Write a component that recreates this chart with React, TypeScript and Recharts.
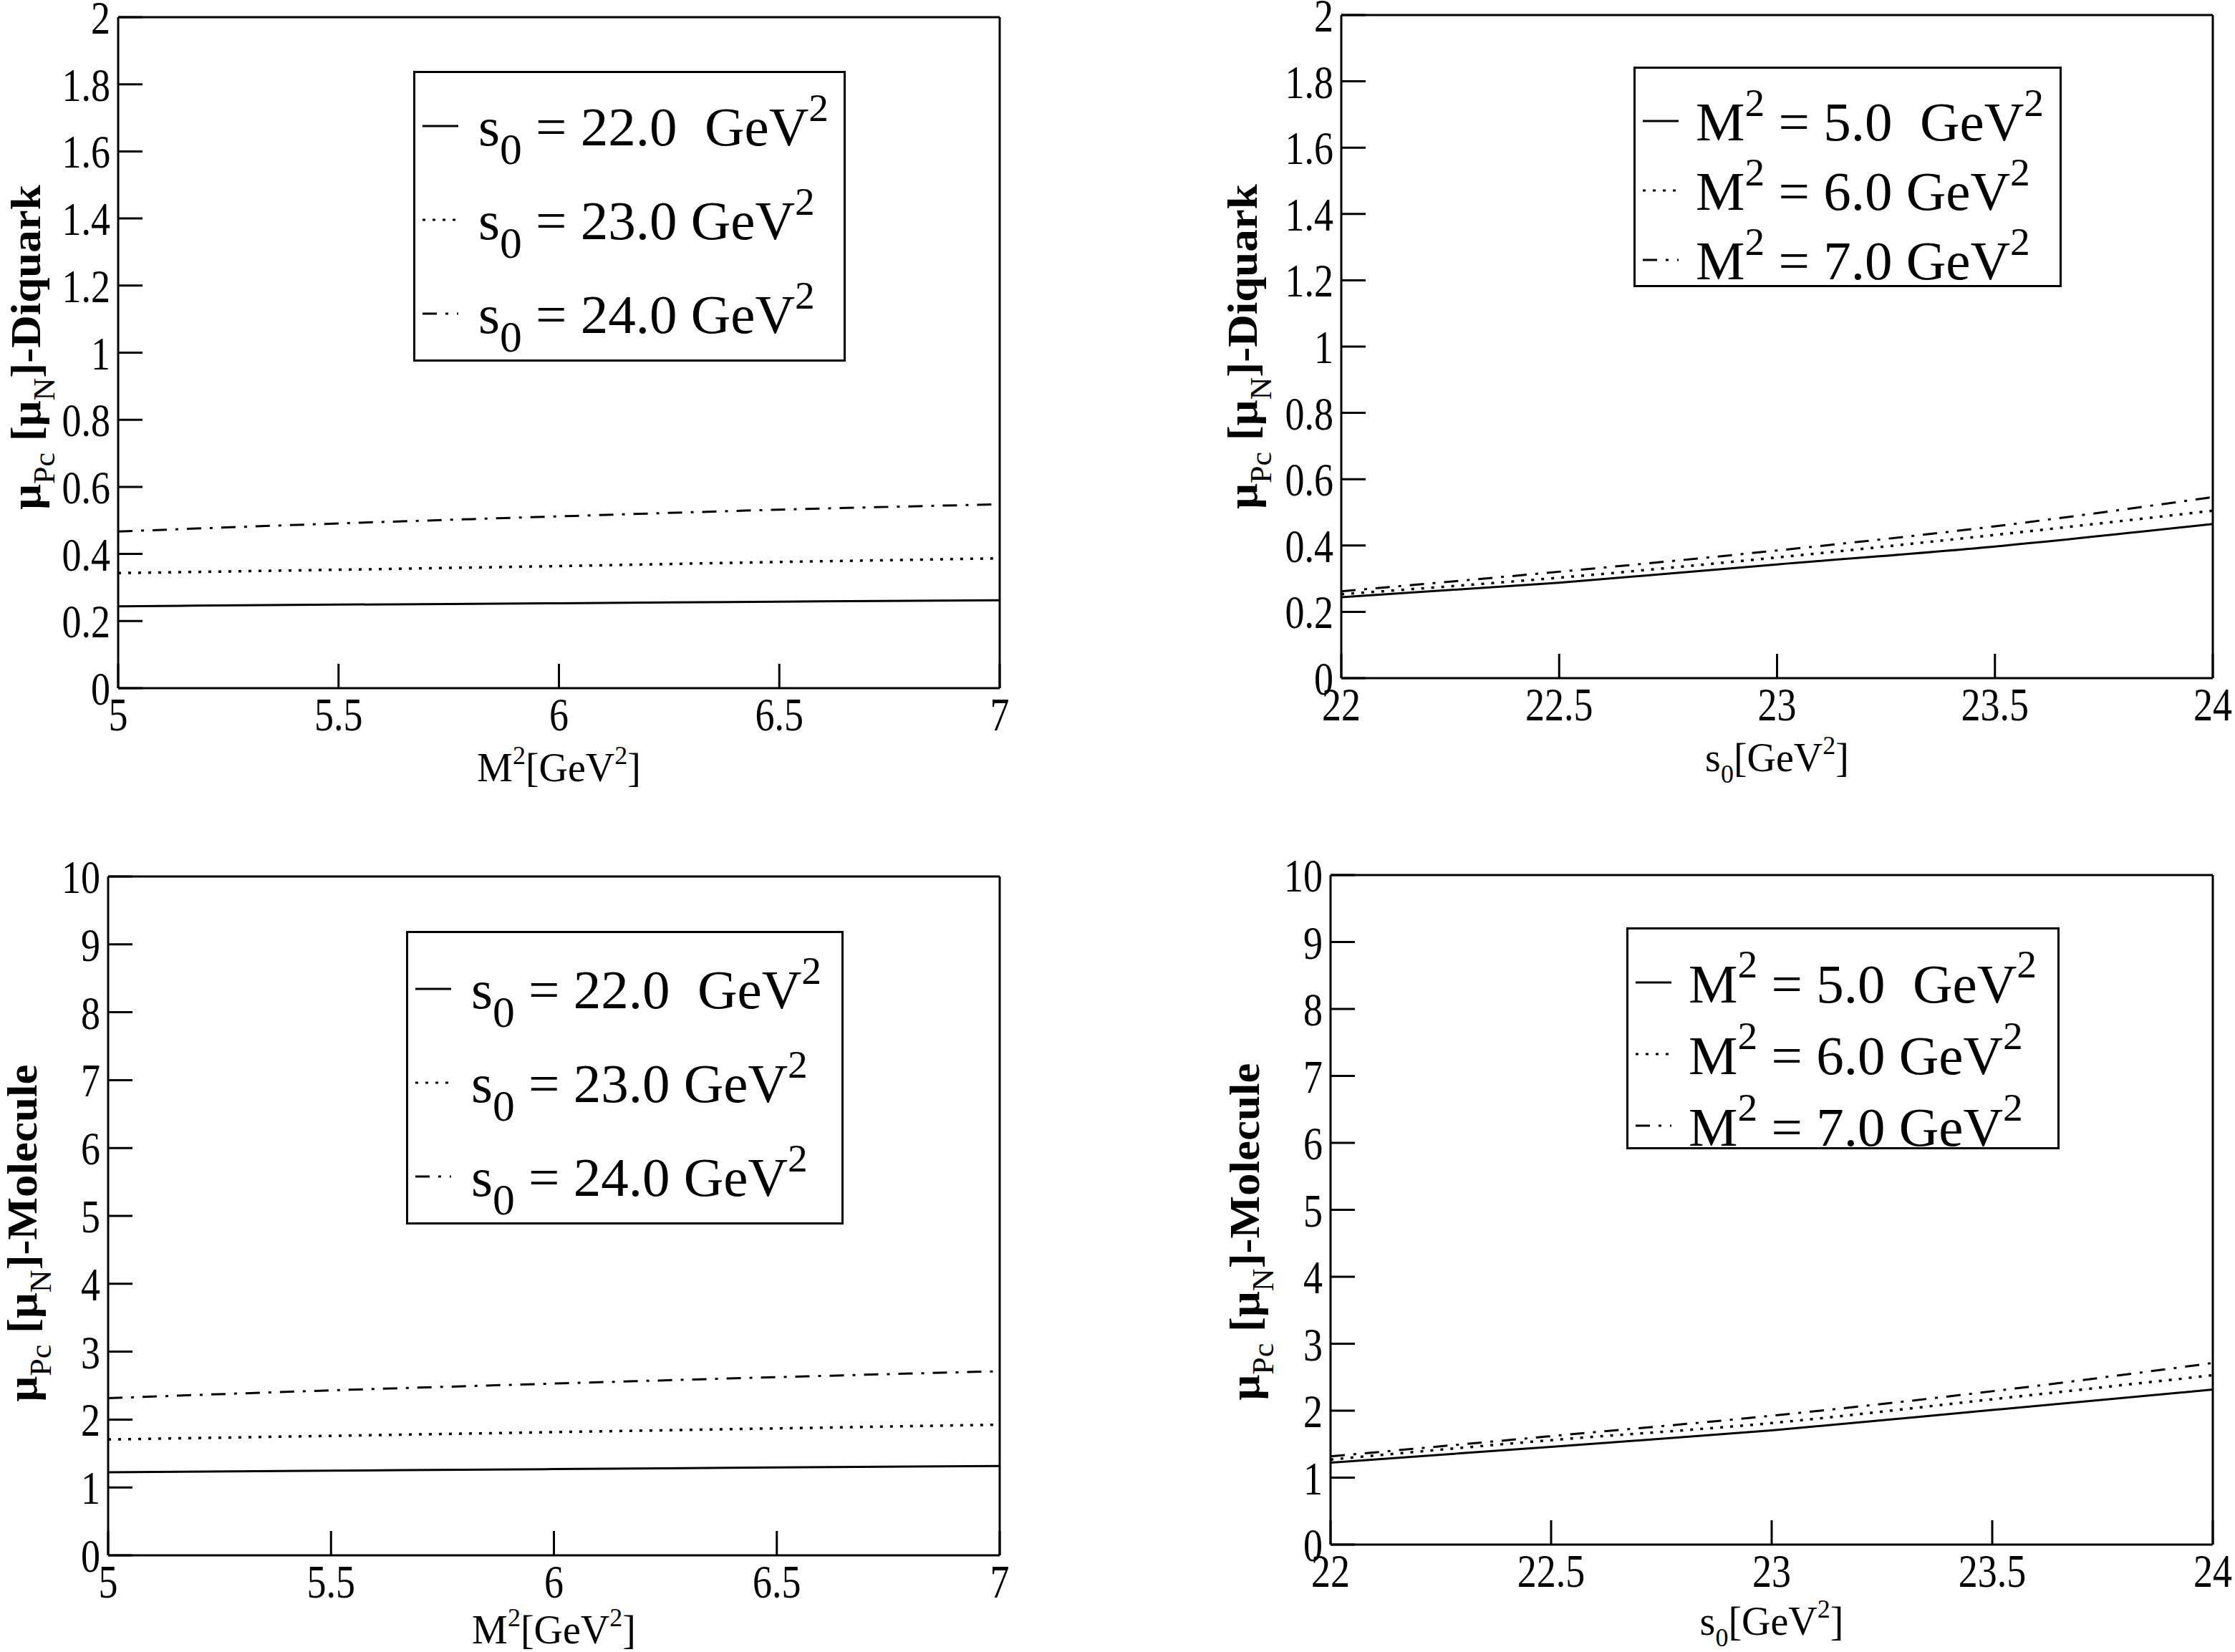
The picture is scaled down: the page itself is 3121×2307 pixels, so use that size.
import React from "react";
import { LineChart, Line, XAxis, YAxis, Legend, Label } from "recharts";

const FONT = '"Liberation Serif", "Times New Roman", serif';

// x values
const m2Values = [5, 5.5, 6, 6.5, 7];
const s0Values = [22, 22.5, 23, 23.5, 24];

// diquark picture, versus M^2 at fixed s0
const diquarkS22 = [0.244, 0.249, 0.253, 0.258, 0.262];
const diquarkS23 = [0.343, 0.353, 0.364, 0.376, 0.387];
const diquarkS24 = [0.467, 0.491, 0.512, 0.532, 0.548];

// diquark picture, versus s0 at fixed M^2
const diquarkM5 = [0.244, 0.288, 0.343, 0.397, 0.465];
const diquarkM6 = [0.253, 0.303, 0.364, 0.432, 0.505];
const diquarkM7 = [0.262, 0.321, 0.385, 0.458, 0.546];

// molecule picture
const moleculeS22 = [1.224, 1.247, 1.27, 1.294, 1.317];
const moleculeS23 = [1.707, 1.76, 1.815, 1.87, 1.925];
const moleculeS24 = [2.315, 2.43, 2.53, 2.625, 2.712];

const moleculeM5 = [1.224, 1.46, 1.707, 2.01, 2.315];
const moleculeM6 = [1.27, 1.56, 1.815, 2.17, 2.53];
const moleculeM7 = [1.317, 1.62, 1.925, 2.29, 2.712];

// ticks
const m2Ticks = [5, 5.5, 6, 6.5, 7];
const m2Minor = [5.25, 5.75, 6.25, 6.75];
const s0Ticks = [22, 22.5, 23, 23.5, 24];
const s0Minor = [22.25, 22.75, 23.25, 23.75];
const diquarkTicks = [0, 0.2, 0.4, 0.6, 0.8, 1, 1.2, 1.4, 1.6, 1.8, 2];
const diquarkMinor = [0.1, 0.3, 0.5, 0.7, 0.9, 1.1, 1.3, 1.5, 1.7, 1.9];
const moleculeTicks = [0, 1, 2, 3, 4, 5, 6, 7, 8, 9, 10];
const moleculeMinor = [0.5, 1.5, 2.5, 3.5, 4.5, 5.5, 6.5, 7.5, 8.5, 9.5];

// legend text
const s0Legend = ["22.0  GeV", "23.0 GeV", "24.0 GeV"];
const m2Legend = ["5.0  GeV", "6.0 GeV", "7.0 GeV"];

const dashes = [undefined, "4 10", "20 12 4 12"];
const keys = ["a", "b", "c"];

type Rect = { x: number; y: number; w: number; h: number };
type Plot = { l: number; t: number; r: number; b: number };

interface PanelProps {
  box: Rect;
  plot: Plot;
  xs: number[];
  series: number[][];
  xDomain: [number, number];
  xTicks: number[];
  xMinor: number[];
  yDomain: [number, number];
  yTicks: number[];
  yMinor: number[];
  xVar: "M" | "s";
  xTitleY: number;
  yTitle: string;
  yTitleX: number;
  yTitleY: number;
  legendBox: Rect;
  legendRowH: number;
  legendPad: number;
  legendTextLeft: number;
  legendLabels: string[];
}

const lineStyle = { stroke: "#000", strokeWidth: 3 };

// tick text is a bit taller than the plain font in the original
function StretchTick(props: any) {
  const { x, y, payload, textAnchor, verticalAnchor } = props;
  const dy = verticalAnchor === "start" ? "0.71em" : "0.355em";
  return (
    <text
      transform={`translate(${x},${y}) scale(1,1.2)`}
      textAnchor={textAnchor}
      dy={dy}
      fontSize={54}
      fontFamily={FONT}
      fill="#000"
    >
      {String(payload.value)}
    </text>
  );
}

function Sym({ v }: { v: "M" | "s" }) {
  if (v === "M") {
    return (
      <>
        M<span style={{ fontSize: "0.72em", position: "relative", top: "-0.62em" }}>2</span>
      </>
    );
  }
  return (
    <>
      s<span style={{ fontSize: "0.8em", position: "relative", top: "0.42em" }}>0</span>
    </>
  );
}

function Panel(p: PanelProps) {
  const data = p.xs.map((x, i) => ({ x, a: p.series[0][i], b: p.series[1][i], c: p.series[2][i] }));
  const margin = {
    left: p.plot.l - p.box.x - 2,
    right: p.box.x + p.box.w - p.plot.r - 2,
    top: p.plot.t - p.box.y - 2,
    bottom: p.box.y + p.box.h - p.plot.b - 2,
  };
  const cx = (p.plot.l + p.plot.r) / 2 - p.box.x;
  const tx = p.yTitleX - p.box.x;
  const ty = p.yTitleY - p.box.y;
  const xTitleBase = p.xTitleY - p.box.y;

  const xTitle = () =>
    p.xVar === "M" ? (
      <text x={cx} y={xTitleBase} textAnchor="middle" fontSize={56} fontFamily={FONT} fill="#000">
        M<tspan dy={-24} fontSize={36}>2</tspan>
        <tspan dy={24}>[GeV</tspan>
        <tspan dy={-24} fontSize={36}>2</tspan>
        <tspan dy={24}>]</tspan>
      </text>
    ) : (
      <text x={cx} y={xTitleBase} textAnchor="middle" fontSize={56} fontFamily={FONT} fill="#000">
        s<tspan dy={16} fontSize={36}>0</tspan>
        <tspan dy={-16}>[GeV</tspan>
        <tspan dy={-24} fontSize={36}>2</tspan>
        <tspan dy={24}>]</tspan>
      </text>
    );

  const yTitle = () => (
    <g transform={`translate(${tx},${ty}) rotate(-90) scale(1.05,1)`}>
      <text x={0} y={0} textAnchor="middle" fontSize={60} fontWeight="bold" fontFamily={FONT} fill="#000">
        μ<tspan dy={20} fontSize={42} fontWeight="normal">Pc</tspan>
        <tspan dy={-20}> [μ</tspan>
        <tspan dy={20} fontSize={42} fontWeight="normal">N</tspan>
        <tspan dy={-20}>]-{p.yTitle}</tspan>
      </text>
    </g>
  );

  const legend = () => (
    <div
      style={{
        boxSizing: "border-box",
        width: p.legendBox.w,
        height: p.legendBox.h,
        border: "3px solid #000",
        background: "#fff",
        paddingTop: p.legendPad,
        fontFamily: FONT,
        fontSize: 77,
        color: "#000",
      }}
    >
      {p.legendLabels.map((lab, i) => (
        <div key={i} style={{ position: "relative", height: p.legendRowH }}>
          <svg width={50} height={10} style={{ position: "absolute", left: 10, top: p.legendRowH / 2 - 7 }}>
            <line x1={0} x2={50} y1={5} y2={5} stroke="#000" strokeWidth={3} strokeDasharray={dashes[i]} />
          </svg>
          <span
            style={{
              position: "absolute",
              left: p.legendTextLeft,
              top: (p.legendRowH - 77) / 2,
              lineHeight: 1,
              whiteSpace: "pre",
            }}
          >
            <Sym v={p.xVar === "M" ? "s" : "M"} /> = {lab}
            <span style={{ fontSize: "0.72em", position: "relative", top: "-0.62em" }}>2</span>
          </span>
        </div>
      ))}
    </div>
  );

  const xCommon = {
    type: "number" as const,
    dataKey: "x",
    domain: p.xDomain,
    allowDataOverflow: true,
    interval: 0 as const,
    height: 1,
    tickLine: lineStyle,
  };
  const yCommon = {
    type: "number" as const,
    domain: p.yDomain,
    allowDataOverflow: true,
    interval: 0 as const,
    width: 1,
    tickLine: lineStyle,
  };

  return (
    <div style={{ position: "absolute", left: p.box.x, top: p.box.y }}>
      <LineChart width={p.box.w} height={p.box.h} data={data} margin={margin}>
        <XAxis
          {...xCommon}
          xAxisId="b"
          ticks={p.xTicks}
          tickSize={-34}
          tickMargin={47}
          tick={<StretchTick />}
          axisLine={lineStyle}
        >
          <Label content={xTitle} />
        </XAxis>
        <XAxis {...xCommon} xAxisId="bm" ticks={p.xMinor} tickSize={-22} tick={false} axisLine={false} />
        <XAxis {...xCommon} xAxisId="t" orientation="top" ticks={p.xTicks} tickSize={-34} tick={false} axisLine={lineStyle} />
        <XAxis {...xCommon} xAxisId="tm" orientation="top" ticks={p.xMinor} tickSize={-22} tick={false} axisLine={false} />
        <YAxis
          {...yCommon}
          yAxisId="l"
          ticks={p.yTicks}
          tickSize={-34}
          tickMargin={45}
          tick={<StretchTick />}
          axisLine={lineStyle}
        >
          <Label content={yTitle} />
        </YAxis>
        <YAxis {...yCommon} yAxisId="lm" ticks={p.yMinor} tickSize={-22} tick={false} axisLine={false} />
        <YAxis {...yCommon} yAxisId="r" orientation="right" ticks={p.yTicks} tickSize={-34} tick={false} axisLine={lineStyle} />
        <YAxis {...yCommon} yAxisId="rm" orientation="right" ticks={p.yMinor} tickSize={-22} tick={false} axisLine={false} />
        <Legend
          layout="horizontal"
          align="center"
          verticalAlign="middle"
          content={legend}
          wrapperStyle={{
            left: p.legendBox.x - p.box.x,
            top: p.legendBox.y - p.box.y,
            width: p.legendBox.w,
            height: p.legendBox.h,
          }}
        />
        {keys.map((k, i) => (
          <Line
            key={k}
            xAxisId="b"
            yAxisId="l"
            type="monotone"
            dataKey={k}
            stroke="#000"
            strokeWidth={i === 1 ? 3.5 : 3}
            strokeDasharray={dashes[i]}
            dot={false}
            activeDot={false}
            isAnimationActive={false}
          />
        ))}
      </LineChart>
    </div>
  );
}

export default function App() {
  return (
    <div style={{ position: "relative", width: 3121, height: 2307, background: "#fff" }}>
      <style>{"body{margin:0;background:#fff}"}</style>
      <Panel
        box={{ x: 0, y: 0, w: 1560, h: 1150 }}
        plot={{ l: 165, t: 24, r: 1396, b: 961 }}
        xs={m2Values}
        series={[diquarkS22, diquarkS23, diquarkS24]}
        xDomain={[5, 7]}
        xTicks={m2Ticks}
        xMinor={m2Minor}
        yDomain={[0, 2]}
        yTicks={diquarkTicks}
        yMinor={diquarkMinor}
        xVar="M"
        xTitleY={1091}
        yTitle="Diquark"
        yTitleX={56}
        yTitleY={485}
        legendBox={{ x: 577, y: 99, w: 604, h: 406 }}
        legendRowH={131}
        legendPad={10}
        legendTextLeft={88}
        legendLabels={s0Legend}
      />
      <Panel
        box={{ x: 1560, y: 0, w: 1561, h: 1150 }}
        plot={{ l: 1873, t: 21, r: 3090, b: 947 }}
        xs={s0Values}
        series={[diquarkM5, diquarkM6, diquarkM7]}
        xDomain={[22, 24]}
        xTicks={s0Ticks}
        xMinor={s0Minor}
        yDomain={[0, 2]}
        yTicks={diquarkTicks}
        yMinor={diquarkMinor}
        xVar="s"
        xTitleY={1077}
        yTitle="Diquark"
        yTitleX={1755}
        yTitleY={484}
        legendBox={{ x: 2281, y: 93, w: 598, h: 308 }}
        legendRowH={97}
        legendPad={26}
        legendTextLeft={84}
        legendLabels={m2Legend}
      />
      <Panel
        box={{ x: 0, y: 1150, w: 1560, h: 1157 }}
        plot={{ l: 151, t: 1224, r: 1396, b: 2172 }}
        xs={m2Values}
        series={[moleculeS22, moleculeS23, moleculeS24]}
        xDomain={[5, 7]}
        xTicks={m2Ticks}
        xMinor={m2Minor}
        yDomain={[0, 10]}
        yTicks={moleculeTicks}
        yMinor={moleculeMinor}
        xVar="M"
        xTitleY={2295}
        yTitle="Molecule"
        yTitleX={51}
        yTitleY={1722}
        legendBox={{ x: 567, y: 1300, w: 611, h: 410 }}
        legendRowH={131}
        legendPad={14}
        legendTextLeft={88}
        legendLabels={s0Legend}
      />
      <Panel
        box={{ x: 1560, y: 1150, w: 1561, h: 1157 }}
        plot={{ l: 1858, t: 1222, r: 3090, b: 2157 }}
        xs={s0Values}
        series={[moleculeM5, moleculeM6, moleculeM7]}
        xDomain={[22, 24]}
        xTicks={s0Ticks}
        xMinor={s0Minor}
        yDomain={[0, 10]}
        yTicks={moleculeTicks}
        yMinor={moleculeMinor}
        xVar="s"
        xTitleY={2283}
        yTitle="Molecule"
        yTitleX={1758}
        yTitleY={1720}
        legendBox={{ x: 2271, y: 1295, w: 605, h: 310 }}
        legendRowH={100}
        legendPad={26}
        legendTextLeft={84}
        legendLabels={m2Legend}
      />
    </div>
  );
}
